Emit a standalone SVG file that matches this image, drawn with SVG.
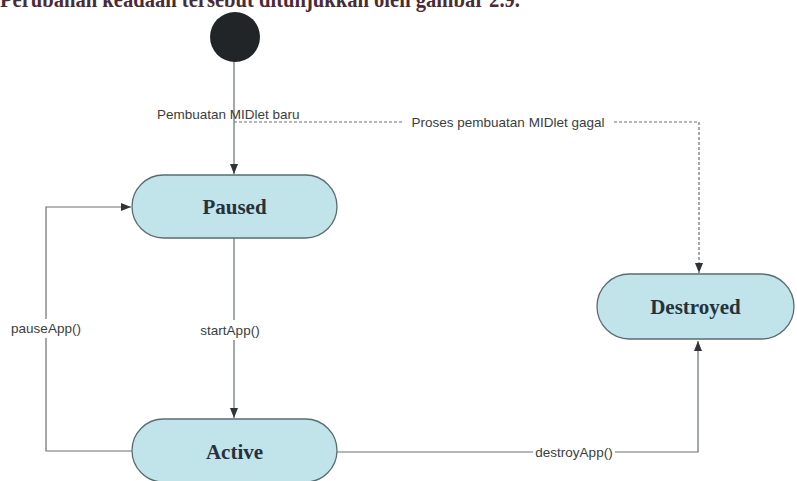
<svg xmlns="http://www.w3.org/2000/svg" width="797" height="481" viewBox="0 0 797 481">
  <defs>
    <style>
      .state rect { fill: #c0e4ea; stroke: #5b6c70; stroke-width: 1.3; }
      .state text { font-family: "Liberation Serif", "Times New Roman", serif; font-weight: bold; font-size: 21px; fill: #27313b; text-anchor: middle; }
      .edge { fill: none; stroke: #6a6f72; stroke-width: 1.2; }
      .dash { stroke-dasharray: 3 2; }
      .lbl { font-family: "Liberation Sans", Arial, sans-serif; font-size: 13.5px; fill: #3a3d40; }
      .bg { fill: #ffffff; }
    </style>
    <marker id="arrow" viewBox="0 0 10 10" refX="10" refY="5" markerWidth="10" markerHeight="10" markerUnits="userSpaceOnUse" orient="auto">
      <path d="M0,1 L10,5 L0,9 z" fill="#2f3438"/>
    </marker>
  </defs>
  <rect width="797" height="481" fill="#ffffff"/>

  <!-- caption line running off the top edge -->
  <text x="0" y="7" font-family="Liberation Serif, serif" font-weight="bold" font-size="24" fill="#4a2c36" textLength="520" lengthAdjust="spacingAndGlyphs">Perubahan keadaan tersebut ditunjukkan oleh gambar 2.9.</text>

  <!-- transitions -->
  <g id="connectors">
    <!-- initial -> Paused -->
    <path class="edge" d="M234,61 V174" marker-end="url(#arrow)"/>
    <!-- initial -> Destroyed (dashed) -->
    <path class="edge dash" d="M234,122 H699 V273" marker-end="url(#arrow)"/>
    <rect class="bg" x="403" y="114" width="210" height="16"/>
    <text class="lbl" x="508" y="127" text-anchor="middle">Proses pembuatan MIDlet gagal</text>
    <text class="lbl" x="157" y="119">Pembuatan MIDlet baru</text>
    <!-- Paused -> Active -->
    <path class="edge" d="M234,238 V418" marker-end="url(#arrow)"/>
    <rect class="bg" x="195" y="320" width="70" height="20"/>
    <text class="lbl" x="230" y="335" text-anchor="middle">startApp()</text>
    <!-- Active -> Paused -->
    <path class="edge" d="M132,451 H46 V207 H131" marker-end="url(#arrow)"/>
    <rect class="bg" x="8" y="319" width="76" height="19"/>
    <text class="lbl" x="46" y="333" text-anchor="middle">pauseApp()</text>
    <!-- Active -> Destroyed -->
    <path class="edge" d="M337,452 H698 V341" marker-end="url(#arrow)"/>
    <rect class="bg" x="533" y="444" width="82" height="16"/>
    <text class="lbl" x="574" y="457" text-anchor="middle">destroyApp()</text>
  </g>

  <g id="initial">
    <circle cx="235" cy="37" r="25" fill="#222528"/>
  </g>

  <g id="paused" class="state">
    <rect x="132" y="175" width="205" height="63" rx="31.5"/>
    <text x="234.5" y="214">Paused</text>
  </g>

  <g id="active" class="state">
    <rect x="132" y="419" width="205" height="63" rx="31.5"/>
    <text x="234.5" y="459">Active</text>
  </g>

  <g id="destroyed" class="state">
    <rect x="597" y="274" width="197" height="65" rx="32.5"/>
    <text x="695.5" y="314">Destroyed</text>
  </g>
</svg>
